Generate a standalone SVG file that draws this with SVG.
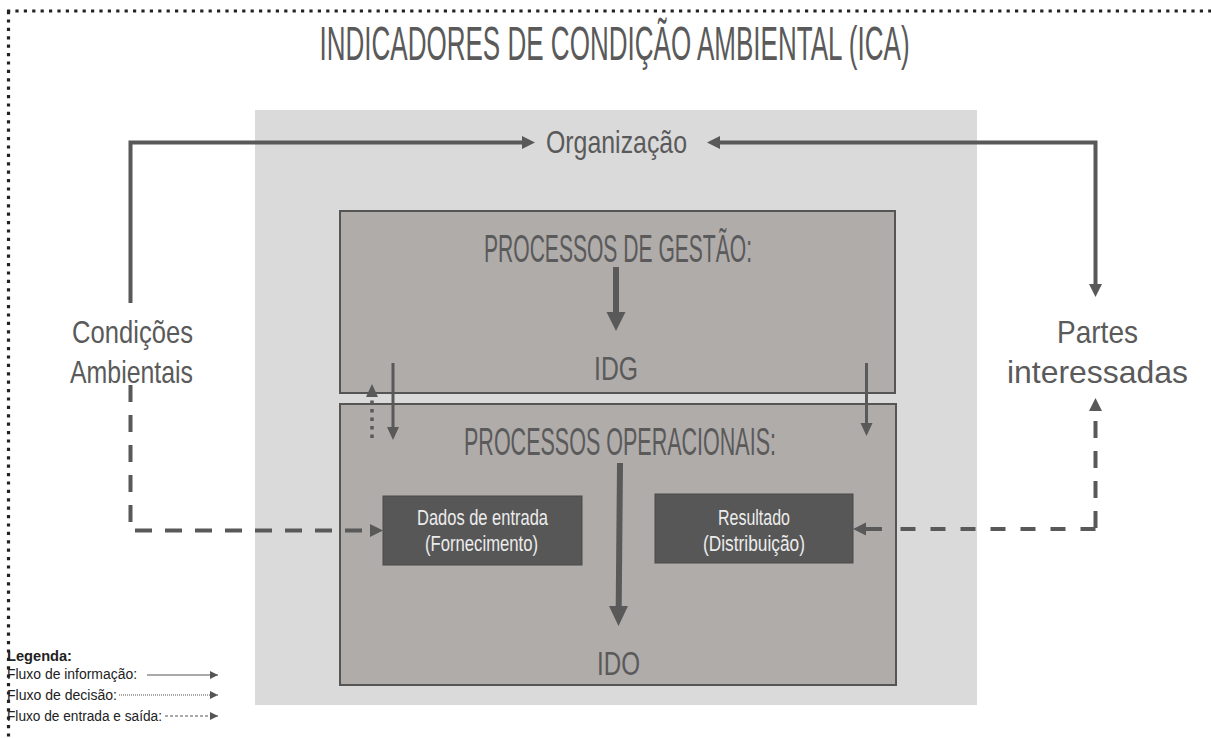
<svg xmlns="http://www.w3.org/2000/svg" width="1211" height="738" viewBox="0 0 1211 738">
<defs>
<style>
.t{font-family:"Liberation Sans",Arial,sans-serif;fill:#5a5a5a;}
.w{font-family:"Liberation Sans",Arial,sans-serif;fill:#ececec;}
.ln{stroke:#595959;fill:none;}
.ah{fill:#595959;}
.leg{font-family:"Liberation Sans",Arial,sans-serif;fill:#222;font-size:14px;}
</style>
<marker id="ahs" viewBox="0 0 10 10" refX="10" refY="5" markerWidth="10" markerHeight="8" orient="auto" markerUnits="userSpaceOnUse">
<path d="M0,0 L10,5 L0,10 z" fill="#555"/>
</marker>
</defs>
<rect width="1211" height="738" fill="#ffffff"/>
<g id="border">
<line x1="7" y1="11" x2="1211" y2="11" stroke="#222" stroke-width="3.2" stroke-dasharray="3.2 5.2"/>
<line x1="8.5" y1="11" x2="8.5" y2="738" stroke="#222" stroke-width="3.2" stroke-dasharray="3.2 5.2"/>
</g>
<g id="title" transform="translate(614.5,60) scale(0.55,1)">
<text class="t" x="0" y="0" font-size="48" text-anchor="middle" textLength="1073" lengthAdjust="spacingAndGlyphs">INDICADORES DE CONDIÇÃO AMBIENTAL (ICA)</text>
</g>
<g id="organizacao-area">
<rect x="255" y="110" width="722" height="595" fill="#dadada"/>
</g>
<g id="node-organizacao">
<text class="t" x="546" y="153" font-size="32" textLength="141" lengthAdjust="spacingAndGlyphs">Organização</text>
</g>
<g id="node-condicoes">
<text class="t" x="72" y="343" font-size="32" textLength="121" lengthAdjust="spacingAndGlyphs">Condições</text>
<text class="t" x="70" y="383" font-size="32" textLength="123" lengthAdjust="spacingAndGlyphs">Ambientais</text>
</g>
<g id="node-partes">
<text class="t" x="1057" y="343" font-size="32" textLength="81" lengthAdjust="spacingAndGlyphs">Partes</text>
<text class="t" x="1007" y="383" font-size="32" textLength="181" lengthAdjust="spacingAndGlyphs">interessadas</text>
</g>
<g id="node-gestao">
<rect x="340" y="211" width="555" height="182" fill="#b0acaa" stroke="#555" stroke-width="2"/>
<text class="t" x="484" y="262" font-size="38" textLength="268" lengthAdjust="spacingAndGlyphs">PROCESSOS DE GESTÃO:</text>
<text class="t" x="594" y="380" font-size="34" textLength="44" lengthAdjust="spacingAndGlyphs">IDG</text>
</g>
<g id="node-operacionais">
<rect x="340" y="404" width="556" height="281" fill="#b0acaa" stroke="#555" stroke-width="2"/>
<text class="t" x="464" y="455" font-size="38" textLength="312" lengthAdjust="spacingAndGlyphs">PROCESSOS OPERACIONAIS:</text>
<text class="t" x="597" y="675" font-size="34" textLength="43" lengthAdjust="spacingAndGlyphs">IDO</text>
</g>
<g id="node-dados">
<rect x="383" y="496" width="199" height="69" fill="#575757" stroke="#4a4a4a" stroke-width="1"/>
<text class="w" x="417" y="525" font-size="22" textLength="131" lengthAdjust="spacingAndGlyphs">Dados de entrada</text>
<text class="w" x="425" y="551" font-size="22" textLength="113" lengthAdjust="spacingAndGlyphs">(Fornecimento)</text>
</g>
<g id="node-resultado">
<rect x="655" y="494" width="198" height="69" fill="#575757" stroke="#4a4a4a" stroke-width="1"/>
<text class="w" x="718" y="525" font-size="22" textLength="72" lengthAdjust="spacingAndGlyphs">Resultado</text>
<text class="w" x="703" y="551" font-size="22" textLength="102" lengthAdjust="spacingAndGlyphs">(Distribuição)</text>
</g>
<g id="connectors">
<polyline class="ln" points="130.5,303 130.5,142.5 523,142.5" stroke-width="4"/>
<path class="ah" d="M522,136 L535,142.5 L522,149 z"/>
<polyline class="ln" points="719,142.5 1095.5,142.5 1095.5,285" stroke-width="4"/>
<path class="ah" d="M720,136 L707,142.5 L720,149 z"/>
<path class="ah" d="M1089,284 L1095.5,297 L1102,284 z"/>
<line class="ln" x1="616" y1="267" x2="616" y2="314" stroke-width="6"/>
<path class="ah" d="M606.5,312 L616,331 L625.5,312 z"/>
<line class="ln" x1="620" y1="463" x2="618.7" y2="608" stroke-width="6"/>
<path class="ah" d="M609,606 L618.5,626 L628,606 z"/>
<line class="ln" x1="393" y1="363" x2="393" y2="429" stroke-width="3"/>
<path class="ah" d="M387,427 L393,440 L399,427 z"/>
<line class="ln" x1="866.5" y1="363" x2="866.5" y2="425" stroke-width="3"/>
<path class="ah" d="M860.5,423 L866.5,436 L872.5,423 z"/>
<line class="ln" x1="372" y1="438" x2="372" y2="395" stroke-width="3.5" stroke-dasharray="3.5 5"/>
<path class="ah" d="M366,397 L372,384 L378,397 z"/>
<polyline class="ln" points="130.5,385 130.5,530.5 372,530.5" stroke-width="4" stroke-dasharray="17 13"/>
<path class="ah" d="M370,524 L383,530.5 L370,537 z"/>
<polyline class="ln" points="1095.5,528 1095.5,412" stroke-width="4" stroke-dasharray="17 13"/>
<path class="ah" d="M1089,411 L1095.5,398 L1102,411 z"/>
<polyline class="ln" points="1095.5,529 897,529" stroke-width="4" stroke-dasharray="15 15"/>
<line class="ln" x1="882" y1="529" x2="865" y2="529" stroke-width="4"/>
<path class="ah" d="M866,522.5 L853,529 L866,535.5 z"/>
</g>
<g id="legend">
<text class="leg" x="7" y="661" font-weight="bold" textLength="65" lengthAdjust="spacingAndGlyphs">Legenda:</text>
<text class="leg" x="7" y="679" textLength="130" lengthAdjust="spacingAndGlyphs">Fluxo de informação:</text>
<text class="leg" x="7" y="700" textLength="110" lengthAdjust="spacingAndGlyphs">Fluxo de decisão:</text>
<text class="leg" x="7" y="721" textLength="155" lengthAdjust="spacingAndGlyphs">Fluxo de entrada e saída:</text>
<line x1="147" y1="675" x2="218" y2="675" stroke="#555" stroke-width="1" marker-end="url(#ahs)"/>
<line x1="119" y1="695" x2="218" y2="695" stroke="#555" stroke-width="1" stroke-dasharray="1 1" marker-end="url(#ahs)"/>
<line x1="165" y1="716" x2="218" y2="716" stroke="#555" stroke-width="1" stroke-dasharray="3 2" marker-end="url(#ahs)"/>
</g>
</svg>
